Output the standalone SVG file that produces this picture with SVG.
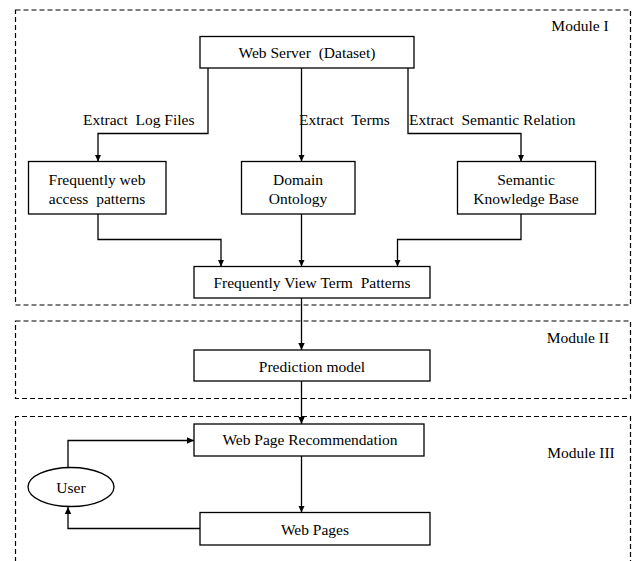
<svg xmlns="http://www.w3.org/2000/svg" width="633" height="561" viewBox="0 0 633 561">
<defs>
<marker id="ah" markerWidth="8" markerHeight="8" refX="7" refY="4" orient="auto" markerUnits="userSpaceOnUse">
<path d="M0,0.8 L7,4 L0,7.2 Z" fill="#000"/>
</marker>
<style>
text{font-family:"Liberation Serif","Times New Roman",serif;font-size:15.5px;fill:#000;text-anchor:middle;dominant-baseline:central}
.box{fill:#fff;stroke:#000;stroke-width:1.3}
.mod{fill:none;stroke:#000;stroke-width:1.2;stroke-dasharray:5,3}
.c{fill:none;stroke:#000;stroke-width:1.3;marker-end:url(#ah)}
.l{text-anchor:start}
.p{white-space:pre}
</style>
</defs>
<rect width="633" height="561" fill="#fff"/>
<g id="modules">
<rect class="mod" x="15.5" y="10" width="615" height="295"/>
<rect class="mod" x="15.5" y="321" width="615" height="77.5"/>
<path class="mod" d="M15.5,570 V416.5 H630.5 V570"/>
<text x="580" y="25">Module I</text>
<text x="578" y="337">Module II</text>
<text x="581" y="452">Module III</text>
</g>
<g id="connectors">
<path class="c" d="M208,68 V133.5 H98 V161.5"/>
<path class="c" d="M301.5,68 V161.5"/>
<path class="c" d="M408,68 V133.5 H521 V161.5"/>
<path class="c" d="M98,214 V239.5 H221 V266.5"/>
<path class="c" d="M301.5,214 V266.5"/>
<path class="c" d="M521,214 V239.5 H397.5 V266.5"/>
<path class="c" d="M301.5,298 V350"/>
<path class="c" d="M301.5,381 V424"/>
<path class="c" d="M301.5,456 V512.5"/>
<path class="c" d="M68,467 V440.5 H194"/>
<path class="c" d="M200,528.5 H68 V507"/>
<text class="l p" x="83" y="119.5" xml:space="preserve">Extract  Log Files</text>
<text class="l p" x="299" y="119.5" xml:space="preserve">Extract  Terms</text>
<text class="l p" x="409" y="119.5" xml:space="preserve">Extract  Semantic Relation</text>
</g>
<g id="web-server">
<rect class="box" x="200" y="36.5" width="214" height="31.5"/>
<text class="p" x="307" y="52.5" xml:space="preserve">Web Server  (Dataset)</text>
</g>
<g id="freq-web-access">
<rect class="box" x="28.5" y="161.5" width="137.5" height="52.5"/>
<text x="97" y="179.5">Frequently web</text>
<text class="p" x="97" y="198.5" xml:space="preserve">access  patterns</text>
</g>
<g id="domain-ontology">
<rect class="box" x="241.5" y="161.5" width="113.5" height="52.5"/>
<text x="298" y="179.5">Domain</text>
<text x="298" y="198.5">Ontology</text>
</g>
<g id="semantic-kb">
<rect class="box" x="457.5" y="161.5" width="138" height="52.5"/>
<text x="526" y="179.5">Semantic</text>
<text x="526" y="198.5">Knowledge Base</text>
</g>
<g id="fvtp">
<rect class="box" x="194" y="266.5" width="236" height="31.5"/>
<text class="p" x="312" y="282" xml:space="preserve">Frequently View Term  Patterns</text>
</g>
<g id="prediction">
<rect class="box" x="194" y="350" width="236" height="31"/>
<text x="312" y="366">Prediction model</text>
</g>
<g id="wpr">
<rect class="box" x="194" y="424" width="230" height="32"/>
<text x="310" y="439">Web Page Recommendation</text>
</g>
<g id="web-pages">
<rect class="box" x="200" y="512.5" width="230" height="32.5"/>
<text x="315" y="529">Web Pages</text>
</g>
<g id="user">
<ellipse class="box" cx="71" cy="487" rx="43" ry="19.5"/>
<text x="71" y="487">User</text>
</g>
</svg>
